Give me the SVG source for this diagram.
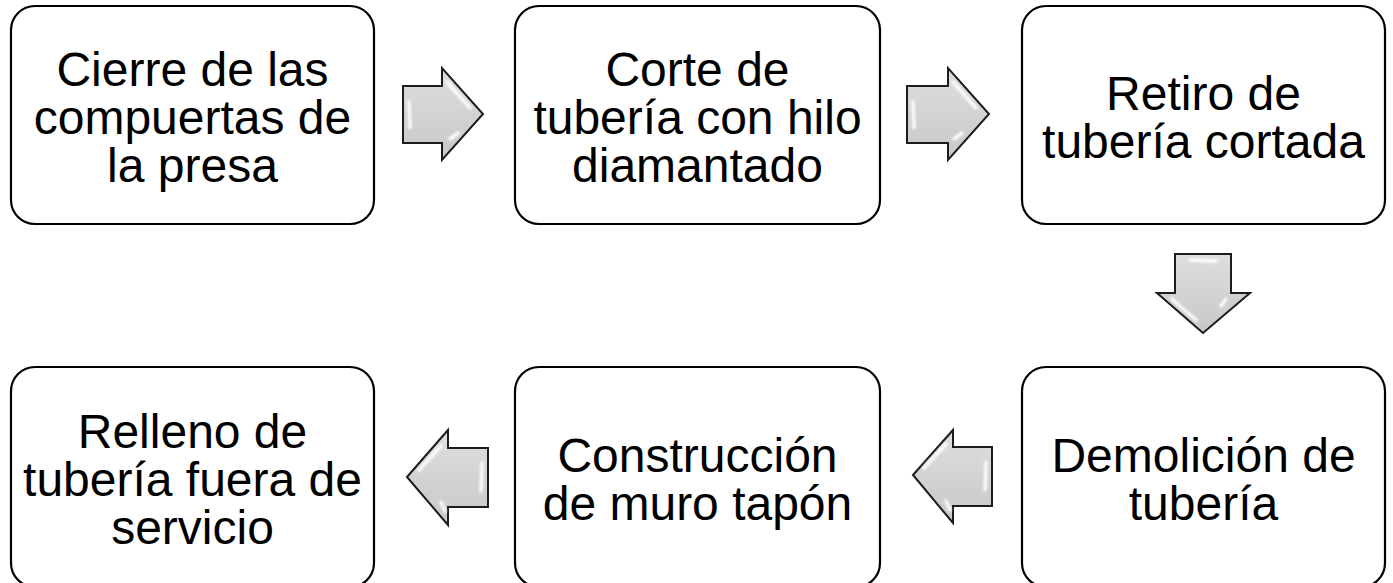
<svg xmlns="http://www.w3.org/2000/svg" width="1393" height="583" viewBox="0 0 1393 583">
<style>
.box{fill:#ffffff;stroke:#000000;stroke-width:2.2}
.lbl{font-family:"Liberation Sans",Arial,sans-serif;font-size:48px;fill:#000000;text-anchor:middle}
.arr{fill:url(#ag);stroke:#1c1c1c;stroke-width:2;stroke-linejoin:miter}
.hl{fill:none;stroke:#ffffff;stroke-width:3.5;stroke-opacity:0.9;stroke-linecap:round;filter:url(#soft)}
</style>
<defs>
<linearGradient id="ag" x1="0" y1="0" x2="0" y2="1">
<stop offset="0" stop-color="#dedede"/>
<stop offset="0.5" stop-color="#d3d3d3"/>
<stop offset="1" stop-color="#c8c8c8"/>
</linearGradient>
<filter id="soft" x="-50%" y="-50%" width="200%" height="200%"><feGaussianBlur stdDeviation="0.9"/></filter>
</defs>
<rect width="1393" height="583" fill="#ffffff"/>
<g id="n1"><rect class="box" x="11" y="6" width="363" height="218" rx="24"/>
<text class="lbl"><tspan x="192.5" y="86">Cierre de las</tspan><tspan x="192.5" y="134">compuertas de</tspan><tspan x="192.5" y="182">la presa</tspan></text></g>
<g id="n2"><rect class="box" x="515" y="6" width="365" height="218" rx="24"/>
<text class="lbl"><tspan x="697.5" y="86">Corte de</tspan><tspan x="697.5" y="134">tubería con hilo</tspan><tspan x="697.5" y="182">diamantado</tspan></text></g>
<g id="n3"><rect class="box" x="1022" y="6" width="363" height="218" rx="24"/>
<text class="lbl"><tspan x="1203.5" y="110">Retiro de</tspan><tspan x="1203.5" y="158">tubería cortada</tspan></text></g>
<g id="n4"><rect class="box" x="1022" y="367" width="363" height="220" rx="24"/>
<text class="lbl"><tspan x="1203.5" y="472">Demolición de</tspan><tspan x="1203.5" y="520">tubería</tspan></text></g>
<g id="n5"><rect class="box" x="515" y="367" width="365" height="220" rx="24"/>
<text class="lbl"><tspan x="697.5" y="472">Construcción</tspan><tspan x="697.5" y="520">de muro tapón</tspan></text></g>
<g id="n6"><rect class="box" x="11" y="367" width="363" height="220" rx="24"/>
<text class="lbl"><tspan x="192.5" y="448">Relleno de</tspan><tspan x="192.5" y="496">tubería fuera de</tspan><tspan x="192.5" y="544">servicio</tspan></text></g>
<g id="connectors">
<g id="c1"><path class="arr" d="M403,86 L442,86 L442,68 L483,114 L442,160 L442,143 L403,143 Z"/>
<path class="hl" d="M409,102 L410,128 M447,82 L470,108 M450,139 L458,133"/></g>
<g id="c2"><path class="arr" d="M907,86 L948,86 L948,68 L989,114 L948,160 L948,143 L907,143 Z"/>
<path class="hl" d="M913,102 L914,128 M953,82 L976,108 M954,139 L962,133"/></g>
<g id="c3"><path class="arr" d="M1175,254 L1231,254 L1231,293 L1250,293 L1203,333 L1157,293 L1175,293 Z"/>
<path class="hl" d="M1190,260 L1216,261 M1172,299 L1196,320 M1226,299 L1221,306"/></g>
<g id="c4"><path class="arr" d="M913,475 L953,430 L953,447 L992,447 L992,506 L953,506 L953,523 Z"/>
<path class="hl" d="M946,444 L924,468 M986,462 L985,490 M946,501 L950,510"/></g>
<g id="c5"><path class="arr" d="M407,477 L448,430 L448,448 L488,448 L488,507 L448,507 L448,525 Z"/>
<path class="hl" d="M441,446 L419,470 M482,463 L481,491 M441,502 L445,511"/></g>
</g>
</svg>
